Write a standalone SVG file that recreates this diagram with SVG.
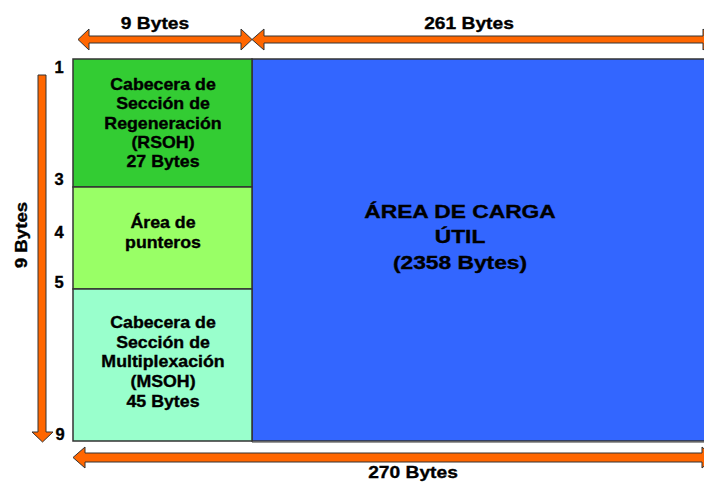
<svg xmlns="http://www.w3.org/2000/svg" width="704" height="482" viewBox="0 0 704 482">
<style>
text{font-family:"Liberation Sans",Arial,sans-serif;font-weight:bold;fill:#000;stroke:#000;stroke-width:0.35;text-anchor:middle}
.hdr{font-size:17px}
.box{font-size:16px}
.big{font-size:19px}
.num{font-size:16.5px}
.arr{fill:#FF6600;stroke:#333;stroke-width:1;stroke-linejoin:miter}
.cell{stroke:#333;stroke-width:1.5}
</style>
<rect width="704" height="482" fill="#fff"/>
<g id="payload">
<rect class="cell" x="252" y="59" width="470" height="382" fill="#3366FF"/>
<line x1="252" y1="442.5" x2="704" y2="442.5" stroke="#999" stroke-width="1"/>
<text class="big" transform="translate(460 0) scale(1.2 1)"><tspan x="0" y="218">ÁREA DE CARGA</tspan><tspan x="0" y="243">ÚTIL</tspan><tspan x="0" y="269">(2358 Bytes)</tspan></text>
</g>
<g id="rsoh">
<rect class="cell" x="73" y="59" width="179" height="128" fill="#33CC33"/>
<text class="box" transform="translate(163 0) scale(1.11 1)"><tspan x="0" y="90">Cabecera de</tspan><tspan x="0" y="109">Sección de</tspan><tspan x="0" y="129">Regeneración</tspan><tspan x="0" y="148">(RSOH)</tspan><tspan x="0" y="167">27 Bytes</tspan></text>
</g>
<g id="pointers">
<rect class="cell" x="73" y="187" width="179" height="102" fill="#99FF66"/>
<text class="box" transform="translate(163 0) scale(1.11 1)"><tspan x="0" y="228">Área de</tspan><tspan x="0" y="248">punteros</tspan></text>
</g>
<g id="msoh">
<rect class="cell" x="73" y="289" width="179" height="152" fill="#99FFCC"/>
<text class="box" transform="translate(163 0) scale(1.11 1)"><tspan x="0" y="328">Cabecera de</tspan><tspan x="0" y="348">Sección de</tspan><tspan x="0" y="367">Multiplexación</tspan><tspan x="0" y="387">(MSOH)</tspan><tspan x="0" y="407">45 Bytes</tspan></text>
</g>
<g id="connectors">
<polygon class="arr" points="78,39.5 89,29 89,36 241,36 241,29 252,39.5 241,50 241,43 89,43 89,50"/>
<polygon class="arr" points="252,39.5 264,29 264,36 703,36 703,29 715,39.5 703,50 703,43 264,43 264,50"/>
<polygon class="arr" points="73,457.5 85,447 85,453 702,453 702,447 714,457.5 702,468 702,462 85,462 85,468"/>
<polygon class="arr" points="38,75 46,75 46,432 53,432 42.5,442 32,432 38,432"/>
</g>
<g id="labels">
<text class="hdr" transform="translate(155 0) scale(1.13 1)" x="0" y="29">9 Bytes</text>
<text class="hdr" transform="translate(469 0) scale(1.13 1)" x="0" y="29">261 Bytes</text>
<text class="hdr" transform="translate(413 0) scale(1.13 1)" x="0" y="478">270 Bytes</text>
<text class="hdr" transform="translate(27 235) rotate(-90) scale(1.1 1)" x="0" y="0">9 Bytes</text>
<text class="num" x="59" y="73">1</text>
<text class="num" x="59" y="185">3</text>
<text class="num" x="59" y="238">4</text>
<text class="num" x="59" y="288">5</text>
<text class="num" x="60" y="440">9</text>
</g>
</svg>
